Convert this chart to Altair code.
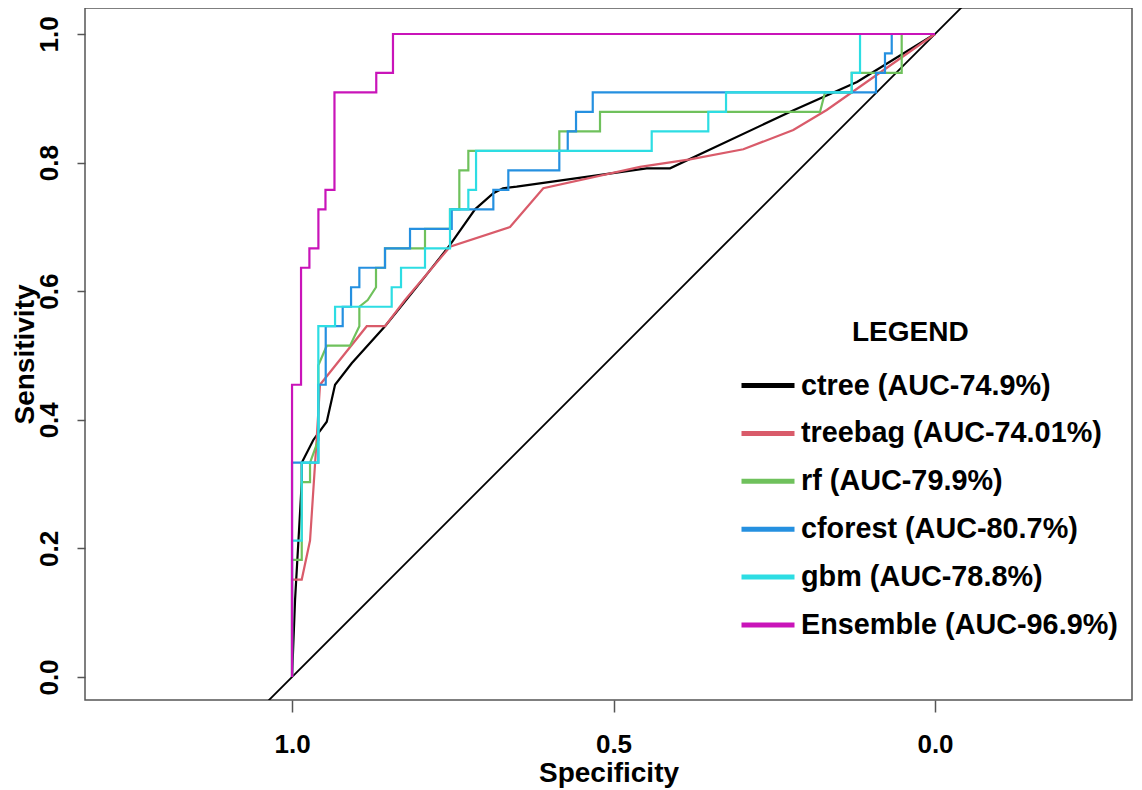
import altair as alt
import pandas as pd

models = ["ctree (AUC-74.9%)", "treebag (AUC-74.01%)", "rf (AUC-79.9%)",
          "cforest (AUC-80.7%)", "gbm (AUC-78.8%)", "Ensemble (AUC-96.9%)"]
colors = ["#000000", "#D95B6A", "#6FC15C", "#2590E0", "#2DDDE3", "#C914B9"]

ctree_spec = [1.0, 0.9953, 0.9891, 0.9849, 0.9849, 0.9669, 0.9460, 0.9331, 0.9072, 0.8554,
              0.7932, 0.7543, 0.7154, 0.6869, 0.6719, 0.6506, 0.4484, 0.4121, 0.2208, 0.1213, 0.0]
ctree_sens = [0.0, 0.1198, 0.2286, 0.3030, 0.3333, 0.3686, 0.3970, 0.4545, 0.4879, 0.5455,
              0.6226, 0.6719, 0.7273, 0.7523, 0.7600, 0.7625, 0.7911, 0.7911, 0.8810, 0.9253, 1.0]

treebag_spec = [1.0, 1.0, 0.9849, 0.9720, 0.9616, 0.9565, 0.8838, 0.8554, 0.8243, 0.7543,
                0.6610, 0.6092, 0.4588, 0.3810, 0.2981, 0.2204, 0.1684, 0.0]
treebag_sens = [0.0, 0.1515, 0.1515, 0.2121, 0.3717, 0.4545, 0.5455, 0.5455, 0.5863, 0.6692,
                0.6998, 0.7600, 0.7932, 0.8051, 0.8207, 0.8507, 0.8818, 1.0]

rf_spec = [1.0, 1.0, 0.9849, 0.9849, 0.9720, 0.9720, 0.9591, 0.9591, 0.9460, 0.9098,
           0.8953, 0.8953, 0.8823, 0.8694, 0.8694, 0.8554, 0.8554, 0.7932, 0.7932, 0.7543,
           0.7543, 0.7398, 0.7398, 0.7258, 0.7258, 0.5843, 0.5843, 0.5210, 0.5210, 0.1788,
           0.1711, 0.1295, 0.1295, 0.0518, 0.0518, 0.0]
rf_sens = [0.0, 0.1820, 0.1820, 0.3030, 0.3030, 0.3333, 0.3686, 0.4848, 0.5152, 0.5152,
           0.5455, 0.5758, 0.5863, 0.6061, 0.6364, 0.6364, 0.6667, 0.6667, 0.6970, 0.6970,
           0.7273, 0.7273, 0.7879, 0.7879, 0.8182, 0.8182, 0.8485, 0.8485, 0.8788, 0.8788,
           0.9091, 0.9091, 0.9394, 0.9394, 1.0, 1.0]

cforest_spec = [1.0, 1.0, 0.9591, 0.9591, 0.9476, 0.9476, 0.9212, 0.9212, 0.9082, 0.9082,
                0.8953, 0.8953, 0.8554, 0.8554, 0.8165, 0.8165, 0.7516, 0.7516, 0.6869, 0.6869,
                0.6636, 0.6636, 0.5843, 0.5843, 0.5712, 0.5712, 0.5583, 0.5583, 0.5323, 0.5323,
                0.0918, 0.0918, 0.0778, 0.0778, 0.0673, 0.0673, 0.0]
cforest_sens = [0.0, 0.3333, 0.3333, 0.4545, 0.4545, 0.5455, 0.5455, 0.5758, 0.5758, 0.6061,
                0.6061, 0.6364, 0.6364, 0.6667, 0.6667, 0.6970, 0.6970, 0.7273, 0.7273, 0.7576,
                0.7576, 0.7879, 0.7879, 0.8182, 0.8182, 0.8485, 0.8485, 0.8788, 0.8788, 0.9091,
                0.9091, 0.9394, 0.9394, 0.9697, 0.9697, 1.0, 1.0]

gbm_spec = [1.0, 1.0, 0.9849, 0.9849, 0.9591, 0.9591, 0.9331, 0.9331, 0.8450, 0.8450,
            0.8305, 0.8305, 0.7932, 0.7932, 0.7543, 0.7543, 0.7258, 0.7258, 0.7138, 0.7138,
            0.4406, 0.4406, 0.3526, 0.3526, 0.3250, 0.3250, 0.1295, 0.1295, 0.1166, 0.1166, 0.0]
gbm_sens = [0.0, 0.2121, 0.2121, 0.3333, 0.3333, 0.5455, 0.5455, 0.5758, 0.5758, 0.6061,
            0.6061, 0.6364, 0.6364, 0.6667, 0.6667, 0.7273, 0.7273, 0.7576, 0.7576, 0.8182,
            0.8182, 0.8485, 0.8485, 0.8788, 0.8788, 0.9091, 0.9091, 0.9394, 0.9394, 1.0, 1.0]

ensemble_spec = [1.0, 1.0, 0.986, 0.986, 0.973, 0.973, 0.959, 0.959, 0.948, 0.948,
                 0.934, 0.934, 0.869, 0.869, 0.843, 0.843, 0.0]
ensemble_sens = [0.0, 0.4545, 0.4545, 0.6364, 0.6364, 0.6667, 0.6667, 0.7273, 0.7273, 0.7576,
                 0.7576, 0.9091, 0.9091, 0.9394, 0.9394, 1.0, 1.0]

diag_spec = [1.1, -0.1]

x_ticks = [1.0, 0.5, 0.0]
y_ticks = [0.0, 0.2, 0.4, 0.6, 0.8, 1.0]

series = [(ctree_spec, ctree_sens), (treebag_spec, treebag_sens), (rf_spec, rf_sens),
          (cforest_spec, cforest_sens), (gbm_spec, gbm_sens), (ensemble_spec, ensemble_sens)]
rows = []
for name, (sp, se) in zip(models, series):
    for i, (a, b) in enumerate(zip(sp, se)):
        rows.append({"model": name, "i": i, "spec": a, "sens": b})
df = pd.DataFrame(rows)
diag_df = pd.DataFrame({"spec": diag_spec})

FONT = "Liberation Sans"

x_enc = alt.X("spec:Q",
              scale=alt.Scale(domain=[-0.3064, 1.322], reverse=True, nice=False, zero=False),
              axis=alt.Axis(values=x_ticks, format=".1f", title="Specificity",
                            tickSize=12, labelPadding=19, titlePadding=2))
y_enc = alt.Y("sens:Q",
              scale=alt.Scale(domain=[-0.0358, 1.0404], nice=False, zero=False),
              axis=alt.Axis(values=y_ticks, format=".1f", title="Sensitivity",
                            tickSize=8, labelPadding=20, labelAngle=270,
                            labelAlign="center", labelBaseline="alphabetic", titlePadding=-3))

diag = alt.Chart(diag_df).transform_calculate(sens="1 - datum.spec").mark_line(
    color="black", strokeWidth=1.8, clip=True).encode(x=x_enc, y=y_enc)

color_enc = alt.Color("model:N", scale=alt.Scale(domain=models, range=colors),
                      legend=alt.Legend(orient="none", legendX=660.5, legendY=355,
                                        title=None,
                                        labelFontSize=28.8, labelFont=FONT,
                                        labelFontWeight="bold", labelColor="black",
                                        symbolType="M-1.325,0H1.325", symbolSize=1600,
                                        symbolStrokeWidth=5, labelOffset=10.5,
                                        rowPadding=9.9, padding=0, labelLimit=0))

layers = [diag]
for name in models:
    layers.append(
        alt.Chart(df).transform_filter(alt.datum.model == name)
        .mark_line(strokeWidth=2.2)
        .encode(x=x_enc, y=y_enc, color=color_enc, order="i:Q")
    )

chart = alt.layer(*layers).properties(
    width=1047, height=692,
    title=alt.TitleParams("LEGEND", anchor="start", frame="group", orient="top",
                          offset=0, dx=767, dy=361, baseline="alphabetic",
                          fontSize=28, font=FONT, fontWeight="bold", color="black"),
    autosize=alt.AutoSizeParams(type="none"),
    padding={"left": 77, "top": 0, "right": 2, "bottom": 90},
).configure_view(stroke="#555555", strokeWidth=1.5).configure_axis(
    grid=False, domain=False, tickColor="#555555", tickWidth=1.5,
    labelFont=FONT, labelFontWeight="bold", labelFontSize=26, labelColor="black",
    titleFont=FONT, titleFontWeight="bold", titleFontSize=28, titleColor="black",
)

chart.save("out.html", embed_options={"renderer": "svg", "actions": False})
